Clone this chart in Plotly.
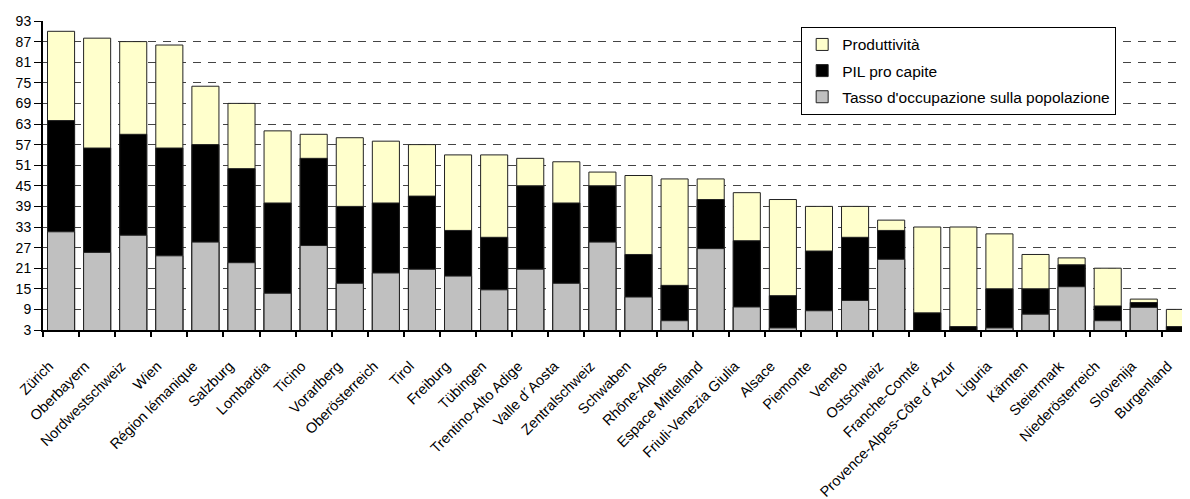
import plotly.graph_objects as go

regions = ["Zürich", "Oberbayern", "Nordwestschweiz", "Wien", "Région lémanique", "Salzburg",
           "Lombardia", "Ticino", "Vorarlberg", "Oberösterreich", "Tirol", "Freiburg", "Tübingen",
           "Trentino-Alto Adige", "Valle d´Aosta", "Zentralschweiz", "Schwaben", "Rhône-Alpes",
           "Espace Mittelland", "Friuli-Venezia Giulia", "Alsace", "Piemonte", "Veneto",
           "Ostschweiz", "Franche-Comté", "Provence-Alpes-Côte d´Azur", "Liguria", "Kärnten",
           "Steiermark", "Niederösterreich", "Slovenija", "Burgenland"]

produttivita = [90, 88, 87, 86, 74, 69, 61, 60, 59, 58, 57, 54, 54, 53, 52, 49, 48, 47, 47, 43,
                41, 39, 39, 35, 33, 33, 31, 25, 24, 21, 12, 9]
pil_pro_capite = [64, 56, 60, 56, 57, 50, 40, 53, 39, 40, 42, 32, 30, 45, 40, 45, 25, 16, 41, 29,
                  13, 26, 30, 32, 8, 4, 15, 15, 22, 10, 11, 4]
tasso_occupazione = [31.6, 25.6, 30.6, 24.6, 28.6, 22.6, 13.7, 27.6, 16.6, 19.6, 20.7, 18.7, 14.7,
                     20.7, 16.6, 28.6, 12.6, 5.7, 26.7, 9.7, 3.6, 8.6, 11.6, 23.6, 0, 0, 3.6, 7.6,
                     15.6, 5.7, 9.6, 0]

y_ticks = list(range(3, 94, 6))

fig = go.Figure()
series = [
    ("Produttività", produttivita, "#FFFFCC"),
    ("PIL pro capite", pil_pro_capite, "#000000"),
    ("Tasso d'occupazione sulla popolazione", tasso_occupazione, "#C0C0C0"),
]
for name, vals, col in series:
    fig.add_trace(go.Bar(
        x=regions, y=vals, name=name, legendgroup=name,
        marker=dict(color=col, line=dict(color="#222222", width=1)),
    ))

fig.update_layout(
    width=1182, height=491,
    barmode="overlay", bargap=0.25,
    paper_bgcolor="white", plot_bgcolor="white",
    margin=dict(l=35, r=0, t=13, b=169, autoexpand=False),
    font=dict(family="Arial, Liberation Sans, sans-serif", size=14, color="black"),
    legend=dict(
        x=0.661, y=0.981, xanchor="left", yanchor="top",
        bgcolor="white", bordercolor="black", borderwidth=1,
        font=dict(size=15.5), tracegroupgap=3, traceorder="grouped",
    ),
    showlegend=True,
)
fig.update_yaxes(
    range=[3, 93], tickvals=y_ticks, ticktext=[str(v) for v in y_ticks],
    showgrid=True, gridcolor="#444444", griddash="8px,7px", gridwidth=1,
    showline=True, linecolor="black", linewidth=2,
    ticks="outside", ticklen=7, tickcolor="black", tickwidth=1,
    tickfont=dict(size=14), zeroline=False,
)
fig.update_xaxes(
    range=[-0.5, 31.28], tickangle=-45, tickson="boundaries",
    showline=True, linecolor="black", linewidth=2,
    ticks="outside", ticklen=5, tickcolor="black", tickwidth=2,
    showgrid=False, tickfont=dict(size=14.5), ticklabelshift=-12,
    ticklabelstandoff=20,
)

fig.write_html("out.html")
